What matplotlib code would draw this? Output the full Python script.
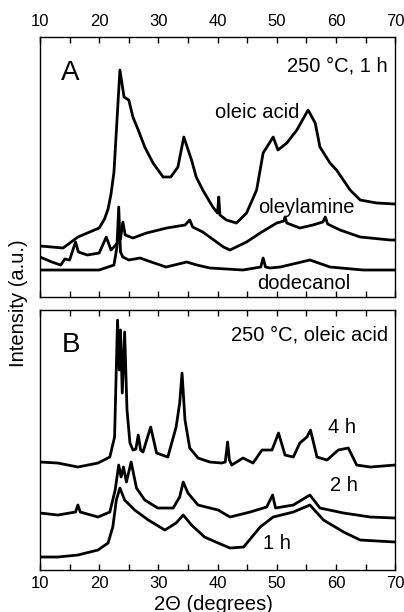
import numpy as np
import matplotlib
matplotlib.use('Agg')
import matplotlib.pyplot as plt
from matplotlib.ticker import MultipleLocator

plt.rcParams['font.family'] = ['Liberation Sans', 'DejaVu Sans']

#---------------------------- panel A : 250 C, 1 h, different solvents
oleic_x = [10, 12, 13.9, 16.4, 18, 20, 20.9, 21.5, 22.0, 22.5, 23.5, 24.2, 25.0, 25.7, 26.6, 27.7,
           29.1, 30.8, 32.1, 33.3, 34.3, 35.6, 36.4, 37.5, 39.2, 40.0, 40.2, 40.4, 41.5, 43.2, 44.9,
           46.6, 47.7, 49.4, 50.2, 51.7, 53.4, 55.3, 56.5, 57.3, 59.0, 60.1, 62.4, 64.1, 66.9, 70]
oleic_y = [51, 50, 49, 60, 64, 69, 78, 88, 103, 125, 227, 200, 197, 180, 167, 150,
           134, 120, 120, 130, 160, 137, 120, 107, 90, 84, 100, 82, 77, 74, 84,
           107, 144, 160, 147, 154, 167, 187, 174, 150, 134, 127, 107, 97, 94, 93]

amine_x = [10, 12, 13.5, 14.2, 15, 16, 16.5, 18, 20, 21.2, 22, 22.8, 23.6, 24.0, 24.4, 25.7, 28,
           31.4, 34.5, 35.3, 35.8, 37.5, 41, 42.1, 44.9, 47.2, 50, 51.2, 51.4, 51.7, 53.9, 56.1,
           57.8, 58.2, 58.6, 60.7, 64.1, 69.2, 70]
amine_y = [40, 35, 32, 38, 37, 55, 45, 42, 44, 60, 47, 52, 58, 75, 62, 59, 64,
           69, 72, 77, 70, 65, 50, 47, 55, 64, 74, 76, 80, 74, 69, 72,
           75, 80, 73, 67, 60, 57, 57]

dodec_x = [10, 15, 20, 22.5, 23.0, 23.3, 23.6, 24.0, 25.0, 26.9, 28.8, 31.3, 34.8, 36.5, 38.7,
           44.3, 47.3, 47.7, 48.1, 48.9, 50.6, 55.6, 59, 64.6, 70]
dodec_y = [27, 27, 27, 32, 50, 90, 45, 40, 37, 39, 35, 30, 35, 32, 29,
           27, 30, 39, 30, 29, 30, 37, 30, 27, 27]

#---------------------------- panel B : 250 C, oleic acid, time series
h4_x = [10, 13, 16.4, 19.8, 21.8, 22.6, 23.1, 23.4, 23.6, 23.9, 24.3, 24.7, 25.2, 25.7, 26.2, 26.6,
        27.0, 27.4, 28.7, 29.7, 31.6, 33.0, 33.6, 34.0, 34.5, 35.3, 36.7, 38.7, 40.7, 41.3, 41.7,
        42.0, 42.4, 44.3, 46.0, 47.5, 49.2, 50.3, 51.4, 52.8, 53.9, 55.1, 55.7, 56.8, 58.5, 60.4,
        62.1, 63.5, 65.8, 70]
h4_y = [108, 107, 103, 107, 113, 133, 250, 200, 240, 177, 238, 160, 127, 120, 121, 135,
        120, 118, 143, 117, 113, 143, 167, 197, 150, 122, 112, 108, 107, 108, 128,
        110, 105, 112, 107, 120, 120, 137, 115, 113, 127, 133, 140, 113, 110, 120,
        122, 105, 103, 105]

h2_x = [10, 13, 16.0, 16.4, 16.8, 19.8, 21.8, 22.7, 23.3, 23.7, 24.1, 24.6, 25.4, 26.3, 27.7,
        29.9, 32.5, 33.6, 34.2, 35, 36.7, 40.1, 42.1, 45.5, 48.3, 49.3, 49.8, 52.8, 55.6, 57.3,
        61.3, 65.8, 70]
h2_y = [57, 55, 58, 65, 58, 53, 58, 80, 105, 93, 103, 88, 108, 82, 70,
        62, 62, 73, 88, 77, 65, 60, 53, 58, 63, 75, 62, 65, 75, 62,
        57, 53, 52]

h1_x = [10, 13, 16.4, 19.8, 21.5, 22.3, 22.9, 23.5, 24.3, 26.0, 28.3, 31.1, 33.0, 34.2, 35.6,
        37.8, 40.1, 42.1, 44.4, 47.2, 49.4, 52.8, 55.6, 57.9, 61.3, 64.1, 70]
h1_y = [13, 13, 15, 20, 27, 43, 70, 82, 70, 60, 50, 40, 47, 55, 45,
        33, 27, 22, 23, 43, 53, 58, 65, 50, 38, 30, 28]

fig = plt.figure(figsize=(4.04, 6.12), dpi=100)
axA = fig.add_axes([0.099, 0.5147, 0.879, 0.4248])
axB = fig.add_axes([0.099, 0.0686, 0.879, 0.4248])

lw = 2.0
axA.plot(oleic_x, oleic_y, color='black', lw=lw)
axA.plot(amine_x, amine_y, color='black', lw=lw)
axA.plot(dodec_x, dodec_y, color='black', lw=lw)

axB.plot(h4_x, h4_y, color='black', lw=lw)
axB.plot(h2_x, h2_y, color='black', lw=lw)
axB.plot(h1_x, h1_y, color='black', lw=lw)

for ax in (axA, axB):
    ax.set_xlim(10, 70)
    ax.set_ylim(0, 260)
    ax.set_yticks([])
    ax.xaxis.set_major_locator(MultipleLocator(10))
    ax.xaxis.set_minor_locator(MultipleLocator(5))
    ax.tick_params(axis='x', which='both', direction='in', top=True, bottom=True,
                   length=4, width=1, labelsize=12, pad=6)
    for s in ax.spines.values():
        s.set_linewidth(1)

axA.tick_params(axis='x', labeltop=True, labelbottom=False)
axB.tick_params(axis='x', labeltop=False, labelbottom=True, pad=4)

# labels inside panels
axA.text(0.06, 0.86, 'A', transform=axA.transAxes, fontsize=20, va='center')
axA.text(0.98, 0.89, '250 °C, 1 h', transform=axA.transAxes, fontsize=14.5, ha='right', va='center')
axA.text(39.6, 185, 'oleic acid', fontsize=14.5, va='center')
axA.text(46.8, 90, 'oleylamine', fontsize=14.5, va='center')
axA.text(46.7, 14, 'dodecanol', fontsize=14.5, va='center')

axB.text(0.06, 0.865, 'B', transform=axB.transAxes, fontsize=20, va='center')
axB.text(0.98, 0.905, '250 °C, oleic acid', transform=axB.transAxes, fontsize=14.5, ha='right', va='center')
axB.text(58.7, 143, '4 h', fontsize=14.5, va='center')
axB.text(59.0, 85, '2 h', fontsize=14.5, va='center')
axB.text(47.7, 27, '1 h', fontsize=14.5, va='center')

fig.text(0.045, 0.505, 'Intensity (a.u.)', rotation=90, fontsize=14.5, ha='center', va='center')
fig.text(0.528, 0.013, '2Θ (degrees)', fontsize=14.5, ha='center', va='center')

plt.savefig('out.png', dpi=100)
